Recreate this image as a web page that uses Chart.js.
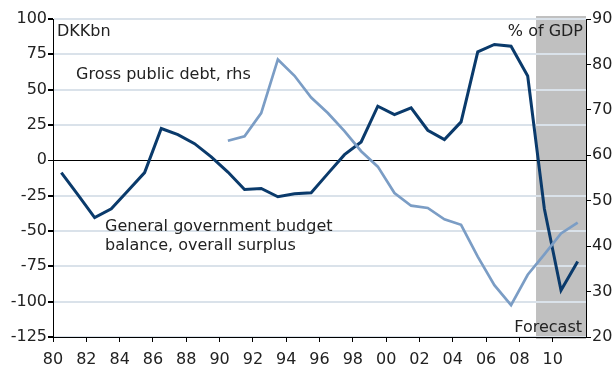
<!DOCTYPE html>
<html>
<head>
<meta charset="utf-8">
<script src="https://cdn.jsdelivr.net/npm/chart.js@4/dist/chart.umd.min.js"></script>
<style>
  body { margin: 0; background: #fff; }
  canvas { display: block; }
</style>
</head>
<body>
<canvas id="chart" width="616" height="365"></canvas>
<script>
// years (values sit at mid-year)
const years = [1980, 1981, 1982, 1983, 1984, 1985, 1986, 1987, 1988, 1989,
               1990, 1991, 1992, 1993, 1994, 1995, 1996, 1997, 1998, 1999,
               2000, 2001, 2002, 2003, 2004, 2005, 2006, 2007, 2008, 2009,
               2010, 2011]

// general government budget balance, DKKbn (left axis)
const budget = [-8.7, -24.5, -40.5, -34.3, -21.5, -8.7, 22.5, 18.2, 11.8, 2.4,
                -8.3, -20.6, -19.9, -25.8, -23.6, -23.0, -9.4, 4.0, 13.0, 38.3,
                32.4, 37.1, 21.3, 14.7, 27.2, 76.8, 82.0, 80.7, 59.7, -34.3,
                -92.0, -71.5]

// gross public debt, % of GDP (right axis), starts 1990
const debt = [null, null, null, null, null, null, null, null, null, null,
              63.2, 64.2, 69.3, 81.1, 77.5, 72.7, 69.3, 65.3, 60.9, 57.5,
              51.7, 48.9, 48.4, 45.9, 44.7, 37.7, 31.4, 27.0, 33.7, 38.2,
              42.8, 45.2]

const forecastFrom = 2009
const forecastTo = 2012

const FONT = "DejaVu Sans"
const TEXT = "#222"

function points(values) {
  let out = []
  for (let i = 0; i < years.length; i++) {
    if (values[i] !== null) out.push({x: years[i] + 0.5, y: values[i]})
  }
  return out
}

// grey forecast band, drawn under the grid
const forecastBand = {
  id: "forecastBand",
  beforeDraw(chart) {
    const ctx = chart.ctx
    const x = chart.scales.x
    const area = chart.chartArea
    const x0 = x.getPixelForValue(forecastFrom)
    const x1 = x.getPixelForValue(forecastTo)
    ctx.save()
    ctx.fillStyle = "#c0c0c0"
    ctx.fillRect(x0, area.top - 3, x1 - x0, area.bottom - area.top + 5)
    ctx.restore()
  }
}

// axis units and series labels
const labels = {
  id: "labels",
  afterDatasetsDraw(chart) {
    const ctx = chart.ctx
    const a = chart.chartArea
    ctx.save()
    ctx.font = "16px '" + FONT + "'"
    ctx.fillStyle = TEXT
    ctx.textBaseline = "middle"
    ctx.textAlign = "left"
    ctx.fillText("DKKbn", a.left + 4, 32)
    ctx.fillText("Gross public debt, rhs", a.left + 23, 75)
    ctx.fillText("General government budget", a.left + 52, 227)
    ctx.fillText("balance, overall surplus", a.left + 52, 246)
    ctx.textAlign = "right"
    ctx.fillText("% of GDP", a.right - 3, 32)
    ctx.fillText("Forecast", a.right - 4, 328)
    ctx.restore()
  }
}

new Chart(document.getElementById("chart"), {
  type: "line",
  data: {
    datasets: [
      {
        label: "Gross public debt, rhs",
        data: points(debt),
        yAxisID: "y2",
        borderColor: "#7b9dc5",
        borderWidth: 2.7,
        pointRadius: 0,
        tension: 0
      },
      {
        label: "General government budget balance",
        data: points(budget),
        yAxisID: "y",
        borderColor: "#0a3a6b",
        borderWidth: 3,
        pointRadius: 0,
        tension: 0
      }
    ]
  },
  options: {
    responsive: false,
    devicePixelRatio: 1,
    animation: false,
    layout: { padding: { top: 19, left: 0, right: 0, bottom: 0 } },
    plugins: { legend: { display: false }, tooltip: { enabled: false } },
    scales: {
      x: {
        type: "linear",
        min: 1980,
        max: 2012,
        afterBuildTicks(scale) {
          scale.ticks = scale.ticks.filter(t => t.value <= 2010)
        },
        afterFit(scale) { scale.height = 28 },
        grid: { drawOnChartArea: false, tickLength: 5, tickColor: "#000" },
        border: { color: "#000", width: 1 },
        ticks: {
          stepSize: 2,
          padding: 8,
          maxRotation: 0,
          autoSkip: false,
          color: TEXT,
          font: { family: FONT, size: 16 },
          callback: v => String(v % 100).padStart(2, "0")
        }
      },
      y: {
        position: "left",
        min: -125,
        max: 100,
        afterFit(scale) { scale.width = 53 },
        grid: {
          color: c => c.tick.value === 0 ? "#000" : "#dae2ea",
          lineWidth: c => c.tick.value === 0 ? 1 : 2,
          tickColor: "#000",
          tickLength: 5
        },
        border: { color: "#000", width: 1 },
        ticks: {
          stepSize: 25,
          padding: 1,
          color: TEXT,
          font: { family: FONT, size: 16 }
        }
      },
      y2: {
        position: "right",
        min: 20,
        max: 90,
        afterFit(scale) { scale.width = 30 },
        grid: { drawOnChartArea: false, tickColor: "#000", tickLength: 5 },
        border: { color: "#000", width: 1 },
        ticks: {
          stepSize: 10,
          padding: 1,
          color: TEXT,
          font: { family: FONT, size: 16 }
        }
      }
    }
  },
  plugins: [forecastBand, labels]
})
</script>
</body>
</html>
